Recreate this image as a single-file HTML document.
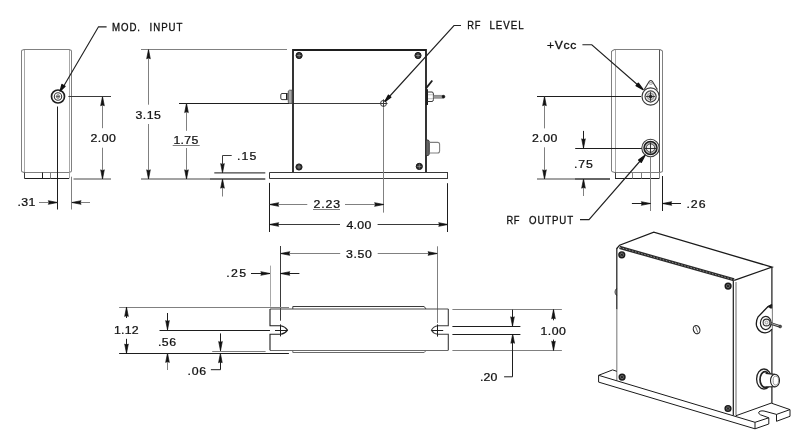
<!DOCTYPE html><html><head><meta charset="utf-8"><style>
html,body{margin:0;padding:0;background:#fff;width:800px;height:443px;overflow:hidden}
svg{display:block;filter:grayscale(1)}
text{font-family:"Liberation Sans",sans-serif}
</style></head><body>
<svg width="800" height="443" viewBox="0 0 800 443">
<line x1="21.5" y1="50.5" x2="21.5" y2="171.5" stroke="#808080" stroke-width="1.0"/>
<line x1="24.5" y1="49.5" x2="24.5" y2="172.5" stroke="#a8a8a8" stroke-width="1.0"/>
<line x1="69.5" y1="49.5" x2="69.5" y2="172.5" stroke="#a8a8a8" stroke-width="1.0"/>
<line x1="71.5" y1="50.5" x2="71.5" y2="171.5" stroke="#808080" stroke-width="1.0"/>
<path d="M21.5,50.5 L24,49.5 L69,49.5 L71.5,50.5" stroke="#808080" stroke-width="1.1" fill="none"/>
<path d="M21.5,171.5 L24,172.5 L69,172.5 L71.5,171.5" stroke="#808080" stroke-width="1.1" fill="none"/>
<line x1="24.5" y1="172.5" x2="24.5" y2="178.5" stroke="#3a3a3a" stroke-width="1.0"/>
<line x1="24.5" y1="178.5" x2="69" y2="178.5" stroke="#1e1e1e" stroke-width="1.2"/>
<line x1="69.5" y1="172.5" x2="69.5" y2="178.5" stroke="#a8a8a8" stroke-width="1.0"/>
<line x1="42.5" y1="172.5" x2="42.5" y2="178.5" stroke="#1e1e1e" stroke-width="1.0"/>
<line x1="50.5" y1="172.5" x2="50.5" y2="178.5" stroke="#808080" stroke-width="1.0"/>
<circle cx="58" cy="96.5" r="6.5" stroke="#1e1e1e" stroke-width="1.7" fill="none"/>
<circle cx="58" cy="96.5" r="3.7" stroke="#3a3a3a" stroke-width="1.1" fill="none"/>
<line x1="56" y1="96.5" x2="60" y2="96.5" stroke="#444" stroke-width="0.8"/>
<line x1="58" y1="94.5" x2="58" y2="98.5" stroke="#444" stroke-width="0.8"/>
<circle cx="58" cy="96.5" r="1.8" stroke="#666" stroke-width="0.7" fill="none"/>
<polyline points="106.6,26.8 98.5,26.8 62,89" stroke="#222" stroke-width="1.15" fill="none" stroke-linejoin="miter"/>
<polygon points="60.11,91.08 61.95,84.50 65.04,86.34" fill="#111" stroke="#111" stroke-width="1.3" stroke-linejoin="round"/>
<line x1="57.5" y1="106.5" x2="57.5" y2="209.5" stroke="#1e1e1e" stroke-width="1.0"/>
<line x1="71.5" y1="176.7" x2="71.5" y2="209.5" stroke="#808080" stroke-width="1.0"/>
<line x1="39" y1="202.5" x2="57.5" y2="202.5" stroke="#808080" stroke-width="1.0"/>
<polygon points="57.50,202.50 48.30,204.30 49.30,202.50 48.30,200.70" fill="#111" stroke="#111" stroke-width="0.7" stroke-linejoin="round"/>
<line x1="90" y1="202.5" x2="71.9" y2="202.5" stroke="#808080" stroke-width="1.0"/>
<polygon points="71.90,202.50 81.10,200.70 80.10,202.50 81.10,204.30" fill="#111" stroke="#111" stroke-width="0.7" stroke-linejoin="round"/>
<line x1="68.4" y1="96.5" x2="111" y2="96.5" stroke="#3a3a3a" stroke-width="1.0"/>
<line x1="73.5" y1="179" x2="111" y2="179" stroke="#858585" stroke-width="1.6"/>
<line x1="102.5" y1="128.2" x2="102.5" y2="96.6" stroke="#808080" stroke-width="1.0"/>
<polygon points="102.50,96.60 104.30,105.80 102.50,104.80 100.70,105.80" fill="#111" stroke="#111" stroke-width="0.7" stroke-linejoin="round"/>
<line x1="102.5" y1="147.7" x2="102.5" y2="179" stroke="#808080" stroke-width="1.0"/>
<polygon points="102.50,179.00 100.70,169.80 102.50,170.80 104.30,169.80" fill="#111" stroke="#111" stroke-width="0.7" stroke-linejoin="round"/>
<line x1="141" y1="49.5" x2="287" y2="49.5" stroke="#808080" stroke-width="1.0"/>
<line x1="141" y1="179" x2="210" y2="179" stroke="#858585" stroke-width="1.6"/>
<line x1="148.5" y1="104.7" x2="148.5" y2="49.6" stroke="#808080" stroke-width="1.0"/>
<polygon points="148.50,49.60 150.30,58.80 148.50,57.80 146.70,58.80" fill="#111" stroke="#111" stroke-width="0.7" stroke-linejoin="round"/>
<line x1="148.5" y1="124" x2="148.5" y2="179" stroke="#808080" stroke-width="1.0"/>
<polygon points="148.50,179.00 146.70,169.80 148.50,170.80 150.30,169.80" fill="#111" stroke="#111" stroke-width="0.7" stroke-linejoin="round"/>
<line x1="179" y1="103.5" x2="292" y2="103.5" stroke="#1e1e1e" stroke-width="1.0"/>
<line x1="293" y1="103.5" x2="383" y2="103.5" stroke="#3a3a3a" stroke-width="1.0"/>
<line x1="186.5" y1="130.8" x2="186.5" y2="103.4" stroke="#808080" stroke-width="1.0"/>
<polygon points="186.50,103.40 188.30,112.60 186.50,111.60 184.70,112.60" fill="#111" stroke="#111" stroke-width="0.7" stroke-linejoin="round"/>
<line x1="186.5" y1="148" x2="186.5" y2="179" stroke="#808080" stroke-width="1.0"/>
<polygon points="186.50,179.00 184.70,169.80 186.50,170.80 188.30,169.80" fill="#111" stroke="#111" stroke-width="0.7" stroke-linejoin="round"/>
<line x1="172.7" y1="145.5" x2="199.7" y2="145.5" stroke="#808080" stroke-width="1.0"/>
<line x1="214.3" y1="172.9" x2="265.3" y2="172.9" stroke="#444" stroke-width="1.4"/>
<line x1="210" y1="179" x2="265.3" y2="179" stroke="#444" stroke-width="1.4"/>
<polyline points="231.7,155.5 222.5,155.5 222.5,164" stroke="#3a3a3a" stroke-width="1" fill="none" stroke-linejoin="miter"/>
<polygon points="222.50,172.80 220.70,163.60 222.50,164.60 224.30,163.60" fill="#111" stroke="#111" stroke-width="0.7" stroke-linejoin="round"/>
<line x1="222.5" y1="196.5" x2="222.5" y2="179" stroke="#808080" stroke-width="1.0"/>
<polygon points="222.50,179.00 224.30,188.20 222.50,187.20 220.70,188.20" fill="#111" stroke="#111" stroke-width="0.7" stroke-linejoin="round"/>
<path d="M293,172 L293,50 L426,50 L426,172" stroke="#1e1e1e" stroke-width="1.8" fill="none"/>
<circle cx="299.1" cy="55.5" r="3.1" stroke="#1a1a1a" stroke-width="1.0" fill="#2a2a2a"/>
<line x1="296.90000000000003" y1="55.5" x2="301.3" y2="55.5" stroke="#aaa" stroke-width="0.6"/>
<line x1="299.1" y1="53.3" x2="299.1" y2="57.7" stroke="#aaa" stroke-width="0.6"/>
<circle cx="418" cy="55.5" r="3.1" stroke="#1a1a1a" stroke-width="1.0" fill="#2a2a2a"/>
<line x1="415.8" y1="55.5" x2="420.2" y2="55.5" stroke="#aaa" stroke-width="0.6"/>
<line x1="418" y1="53.3" x2="418" y2="57.7" stroke="#aaa" stroke-width="0.6"/>
<circle cx="299" cy="167" r="3.1" stroke="#1a1a1a" stroke-width="1.0" fill="#2a2a2a"/>
<line x1="296.8" y1="167" x2="301.2" y2="167" stroke="#aaa" stroke-width="0.6"/>
<line x1="299" y1="164.8" x2="299" y2="169.2" stroke="#aaa" stroke-width="0.6"/>
<circle cx="419.3" cy="166.4" r="3.1" stroke="#1a1a1a" stroke-width="1.0" fill="#2a2a2a"/>
<line x1="417.1" y1="166.4" x2="421.5" y2="166.4" stroke="#aaa" stroke-width="0.6"/>
<line x1="419.3" y1="164.20000000000002" x2="419.3" y2="168.6" stroke="#aaa" stroke-width="0.6"/>
<line x1="269.4" y1="172.5" x2="448" y2="172.5" stroke="#3a3a3a" stroke-width="1.1"/>
<line x1="269.4" y1="178.5" x2="448" y2="178.5" stroke="#3a3a3a" stroke-width="1.1"/>
<line x1="269.5" y1="172.5" x2="269.5" y2="178.5" stroke="#3a3a3a" stroke-width="1.0"/>
<line x1="447.5" y1="172.5" x2="447.5" y2="178.5" stroke="#3a3a3a" stroke-width="1.0"/>
<path d="M287.6,93.5 L282,93.5 Q280.8,93.5 280.8,95 L280.8,98 Q280.8,99.6 282,99.6 L287.6,99.6" stroke="#3a3a3a" stroke-width="1" fill="none"/>
<line x1="286.8" y1="93.5" x2="286.8" y2="99.6" stroke="#1e1e1e" stroke-width="1.6"/>
<polygon points="288.3,91 289.5,90.2 292,90.2 292,103.4 289.5,103.4 288.3,102.6" stroke="#555" stroke-width="0.9" fill="#aaa"/>
<line x1="426" y1="88.4" x2="432.3" y2="80.5" stroke="#1e1e1e" stroke-width="1.8"/>
<line x1="426.8" y1="89.2" x2="426.8" y2="105" stroke="#1e1e1e" stroke-width="2.4"/>
<path d="M427.5,92 L432,92 Q433.4,92 433.4,94 L433.4,99.5 Q433.4,101.5 432,101.5 L427.5,101.5" stroke="#3a3a3a" stroke-width="1" fill="none"/>
<line x1="428" y1="94.75" x2="433" y2="94.75" stroke="#a8a8a8" stroke-width="0.7"/>
<line x1="428" y1="98.7" x2="433" y2="98.7" stroke="#a8a8a8" stroke-width="0.7"/>
<rect x="433.4" y="95.2" width="9.8" height="3" fill="#999" stroke="#666" stroke-width="0.5"/>
<circle cx="443.5" cy="96.7" r="1.4" stroke="#111" stroke-width="0.6" fill="#111"/>
<polygon points="426,140 428.3,140 429.3,141.5 429.3,154 428.3,155.5 426,155.5" stroke="#333" stroke-width="0.9" fill="#666"/>
<path d="M429.3,142.4 L437.6,142.4 Q439.6,142.4 439.6,144.4 L439.6,151 Q439.6,153 437.6,153 L429.3,153" stroke="#808080" stroke-width="1.1" fill="none"/>
<circle cx="383.5" cy="103.4" r="3" stroke="#3a3a3a" stroke-width="1" fill="none"/>
<line x1="379.5" y1="103.5" x2="387.5" y2="103.5" stroke="#3a3a3a" stroke-width="1.0"/>
<line x1="383.5" y1="99.4" x2="383.5" y2="107.4" stroke="#3a3a3a" stroke-width="1.0"/>
<line x1="383.5" y1="107.4" x2="383.5" y2="212.4" stroke="#808080" stroke-width="1.0"/>
<polyline points="461,25.5 454,25.5 389,97" stroke="#222" stroke-width="1.15" fill="none" stroke-linejoin="miter"/>
<polygon points="385.00,101.36 388.46,95.18 390.83,97.33" fill="#111" stroke="#111" stroke-width="1.3" stroke-linejoin="round"/>
<line x1="269.5" y1="182.9" x2="269.5" y2="232" stroke="#1e1e1e" stroke-width="1.0"/>
<line x1="383.5" y1="180" x2="383.5" y2="212.4" stroke="#808080" stroke-width="1.0"/>
<line x1="307.3" y1="204.5" x2="269.5" y2="204.5" stroke="#808080" stroke-width="1.0"/>
<polygon points="269.50,204.50 278.70,202.70 277.70,204.50 278.70,206.30" fill="#111" stroke="#111" stroke-width="0.7" stroke-linejoin="round"/>
<line x1="345" y1="204.5" x2="383.8" y2="204.5" stroke="#808080" stroke-width="1.0"/>
<polygon points="383.80,204.50 374.60,206.30 375.60,204.50 374.60,202.70" fill="#111" stroke="#111" stroke-width="0.7" stroke-linejoin="round"/>
<line x1="313" y1="209.5" x2="340" y2="209.5" stroke="#808080" stroke-width="1.0"/>
<line x1="340" y1="224.5" x2="269.5" y2="224.5" stroke="#3a3a3a" stroke-width="1.0"/>
<polygon points="269.50,224.50 278.70,222.70 277.70,224.50 278.70,226.30" fill="#111" stroke="#111" stroke-width="0.7" stroke-linejoin="round"/>
<line x1="377.6" y1="224.5" x2="447.9" y2="224.5" stroke="#3a3a3a" stroke-width="1.0"/>
<polygon points="447.90,224.50 438.70,226.30 439.70,224.50 438.70,222.70" fill="#111" stroke="#111" stroke-width="0.7" stroke-linejoin="round"/>
<line x1="447.5" y1="183.2" x2="447.5" y2="232" stroke="#1e1e1e" stroke-width="1.0"/>
<line x1="611.5" y1="51" x2="611.5" y2="171.5" stroke="#808080" stroke-width="1.0"/>
<line x1="615.5" y1="49.7" x2="615.5" y2="172.5" stroke="#a8a8a8" stroke-width="1.0"/>
<line x1="659.5" y1="49.7" x2="659.5" y2="172.5" stroke="#555" stroke-width="1.0"/>
<line x1="662.5" y1="51" x2="662.5" y2="171.5" stroke="#808080" stroke-width="1.0"/>
<path d="M611.9,51 L614.5,49.5 L660,49.5 L662.6,51" stroke="#808080" stroke-width="1.1" fill="none"/>
<path d="M611.9,171.5 L614.5,172.5 L660,172.5 L662.6,171.5" stroke="#808080" stroke-width="1.1" fill="none"/>
<line x1="615.5" y1="172.5" x2="615.5" y2="178.5" stroke="#3a3a3a" stroke-width="1.0"/>
<line x1="615" y1="178.5" x2="659.4" y2="178.5" stroke="#1e1e1e" stroke-width="1.2"/>
<line x1="659.5" y1="172.5" x2="659.5" y2="178.5" stroke="#808080" stroke-width="1.0"/>
<line x1="632.5" y1="172.5" x2="632.5" y2="178.5" stroke="#808080" stroke-width="1.0"/>
<line x1="641.5" y1="172.5" x2="641.5" y2="178.5" stroke="#808080" stroke-width="1.0"/>
<path d="M644.2,89.6 L649.3,81.3 Q650.8,79.6 652.3,81.3 L657.4,89.6" stroke="#3a3a3a" stroke-width="1.1" fill="none"/>
<ellipse cx="650.8" cy="83.4" rx="1.8" ry="0.9" fill="none" stroke="#777" stroke-width="0.7"/>
<circle cx="650.6" cy="96.5" r="8.6" stroke="#3a3a3a" stroke-width="1.2" fill="#fff"/>
<circle cx="650.6" cy="96.5" r="5.6" stroke="#3a3a3a" stroke-width="1.1" fill="#ddd"/>
<circle cx="650.6" cy="96.5" r="3.2" stroke="#777" stroke-width="0.8" fill="none"/>
<circle cx="650.6" cy="96.5" r="1.6" stroke="#1e1e1e" stroke-width="0.5" fill="#1e1e1e"/>
<line x1="646" y1="96.5" x2="655" y2="96.5" stroke="#1e1e1e" stroke-width="0.8"/>
<line x1="650.5" y1="92" x2="650.5" y2="101" stroke="#1e1e1e" stroke-width="0.8"/>
<circle cx="650.5" cy="148" r="8.7" stroke="#3a3a3a" stroke-width="1.1" fill="none"/>
<circle cx="650.5" cy="148" r="6.5" stroke="#1e1e1e" stroke-width="1.5" fill="#bbb"/>
<circle cx="650.5" cy="148" r="4.2" stroke="#3a3a3a" stroke-width="0.9" fill="#eee"/>
<line x1="645" y1="148.5" x2="656" y2="148.5" stroke="#1e1e1e" stroke-width="0.9"/>
<line x1="650.5" y1="142.5" x2="650.5" y2="153.5" stroke="#1e1e1e" stroke-width="0.9"/>
<line x1="650.5" y1="157" x2="650.5" y2="211" stroke="#808080" stroke-width="1.0"/>
<line x1="662.5" y1="176" x2="662.5" y2="211" stroke="#1e1e1e" stroke-width="1.0"/>
<line x1="631.9" y1="203.5" x2="650.5" y2="203.5" stroke="#1e1e1e" stroke-width="1.0"/>
<polygon points="650.50,203.50 641.30,205.30 642.30,203.50 641.30,201.70" fill="#111" stroke="#111" stroke-width="0.7" stroke-linejoin="round"/>
<line x1="681" y1="203.5" x2="662.5" y2="203.5" stroke="#1e1e1e" stroke-width="1.0"/>
<polygon points="662.50,203.50 671.70,201.70 670.70,203.50 671.70,205.30" fill="#111" stroke="#111" stroke-width="0.7" stroke-linejoin="round"/>
<line x1="537" y1="96.5" x2="641" y2="96.5" stroke="#1e1e1e" stroke-width="1.0"/>
<line x1="537" y1="179" x2="575" y2="179" stroke="#858585" stroke-width="1.5"/>
<line x1="575" y1="179" x2="610" y2="179" stroke="#333" stroke-width="1.5"/>
<line x1="544.5" y1="128.4" x2="544.5" y2="96.5" stroke="#808080" stroke-width="1.0"/>
<polygon points="544.50,96.50 546.30,105.70 544.50,104.70 542.70,105.70" fill="#111" stroke="#111" stroke-width="0.7" stroke-linejoin="round"/>
<line x1="544.5" y1="147.3" x2="544.5" y2="179" stroke="#808080" stroke-width="1.0"/>
<polygon points="544.50,179.00 542.70,169.80 544.50,170.80 546.30,169.80" fill="#111" stroke="#111" stroke-width="0.7" stroke-linejoin="round"/>
<line x1="575.2" y1="148.5" x2="641.8" y2="148.5" stroke="#1e1e1e" stroke-width="1.0"/>
<line x1="583.5" y1="130.9" x2="583.5" y2="148" stroke="#1e1e1e" stroke-width="1.0"/>
<polygon points="583.50,148.00 581.70,138.80 583.50,139.80 585.30,138.80" fill="#111" stroke="#111" stroke-width="0.7" stroke-linejoin="round"/>
<line x1="583.5" y1="196" x2="583.5" y2="179" stroke="#808080" stroke-width="1.0"/>
<polygon points="583.50,179.00 585.30,188.20 583.50,187.20 581.70,188.20" fill="#111" stroke="#111" stroke-width="0.7" stroke-linejoin="round"/>
<polyline points="582.4,44.75 591.8,44.75 639,86" stroke="#222" stroke-width="1.15" fill="none" stroke-linejoin="miter"/>
<polygon points="643.15,89.61 636.08,85.69 638.32,83.13" fill="#111" stroke="#111" stroke-width="1.3" stroke-linejoin="round"/>
<polyline points="580,219.6 589,219.6 641,160" stroke="#222" stroke-width="1.15" fill="none" stroke-linejoin="miter"/>
<polygon points="645.11,155.25 641.20,162.32 638.63,160.09" fill="#111" stroke="#111" stroke-width="1.3" stroke-linejoin="round"/>
<line x1="280.5" y1="246" x2="280.5" y2="320.7" stroke="#3a3a3a" stroke-width="1.0"/>
<line x1="437.5" y1="246.3" x2="437.5" y2="323" stroke="#808080" stroke-width="1.0"/>
<line x1="340.2" y1="253.5" x2="280.6" y2="253.5" stroke="#808080" stroke-width="1.0"/>
<polygon points="280.60,253.50 289.80,251.70 288.80,253.50 289.80,255.30" fill="#111" stroke="#111" stroke-width="0.7" stroke-linejoin="round"/>
<line x1="377.7" y1="253.5" x2="437.2" y2="253.5" stroke="#808080" stroke-width="1.0"/>
<polygon points="437.20,253.50 428.00,255.30 429.00,253.50 428.00,251.70" fill="#111" stroke="#111" stroke-width="0.7" stroke-linejoin="round"/>
<line x1="270.5" y1="265.6" x2="270.5" y2="306.7" stroke="#a8a8a8" stroke-width="1.0"/>
<line x1="251" y1="273.5" x2="270" y2="273.5" stroke="#1e1e1e" stroke-width="1.0"/>
<polygon points="270.00,273.50 260.80,275.30 261.80,273.50 260.80,271.70" fill="#111" stroke="#111" stroke-width="0.7" stroke-linejoin="round"/>
<line x1="299.4" y1="273.5" x2="280.6" y2="273.5" stroke="#1e1e1e" stroke-width="1.0"/>
<polygon points="280.60,273.50 289.80,271.70 288.80,273.50 289.80,275.30" fill="#111" stroke="#111" stroke-width="0.7" stroke-linejoin="round"/>
<line x1="119.1" y1="307.5" x2="289" y2="307.5" stroke="#808080" stroke-width="1.0"/>
<path d="M292.8,309 L292.8,306.5 L424.2,306.5 L426,309" stroke="#3a3a3a" stroke-width="1.0" fill="none"/>
<line x1="270" y1="309" x2="448.3" y2="309" stroke="#4a4a4a" stroke-width="1.2"/>
<line x1="119.1" y1="353.5" x2="288.9" y2="353.5" stroke="#1e1e1e" stroke-width="1.2"/>
<path d="M292.8,350.5 L292.8,352.5 L424.2,352.5 L426,350.5" stroke="#6a6a6a" stroke-width="1.0" fill="none"/>
<line x1="270" y1="350.5" x2="448.3" y2="350.5" stroke="#6a6a6a" stroke-width="1.0"/>
<line x1="212.2" y1="351.5" x2="265.6" y2="351.5" stroke="#808080" stroke-width="1.0"/>
<path d="M270,309 L270,325.8 L280.6,325.8 Q285,326.5 287.5,330.1 Q285,333.7 280.6,334.3 L270,334.3 L270,350.3" stroke="#1e1e1e" stroke-width="1.1" fill="none"/>
<line x1="280.5" y1="324.4" x2="280.5" y2="336.4" stroke="#1e1e1e" stroke-width="1.0"/>
<line x1="275" y1="330.5" x2="287.5" y2="330.5" stroke="#1e1e1e" stroke-width="1.0"/>
<line x1="159.5" y1="330.5" x2="270" y2="330.5" stroke="#1e1e1e" stroke-width="1.0"/>
<path d="M448.3,309 L448.3,325.8 L437.8,325.8 Q433.5,326.5 431.4,330.2 Q433.5,333.6 437.8,334.3 L448.3,334.3 L448.3,350.3" stroke="#3a3a3a" stroke-width="1.1" fill="none"/>
<line x1="437.5" y1="324.4" x2="437.5" y2="336.6" stroke="#1e1e1e" stroke-width="1.0"/>
<line x1="431.7" y1="330.5" x2="443.2" y2="330.5" stroke="#1e1e1e" stroke-width="1.0"/>
<line x1="126.5" y1="318" x2="126.5" y2="307.2" stroke="#1e1e1e" stroke-width="1.0"/>
<polygon points="126.50,307.20 128.30,316.40 126.50,315.40 124.70,316.40" fill="#111" stroke="#111" stroke-width="0.7" stroke-linejoin="round"/>
<line x1="126.5" y1="338.8" x2="126.5" y2="353.2" stroke="#1e1e1e" stroke-width="1.0"/>
<polygon points="126.50,353.20 124.70,344.00 126.50,345.00 128.30,344.00" fill="#111" stroke="#111" stroke-width="0.7" stroke-linejoin="round"/>
<line x1="167.5" y1="313" x2="167.5" y2="329.8" stroke="#1e1e1e" stroke-width="1.0"/>
<polygon points="167.50,329.80 165.70,320.60 167.50,321.60 169.30,320.60" fill="#111" stroke="#111" stroke-width="0.7" stroke-linejoin="round"/>
<line x1="167.5" y1="370" x2="167.5" y2="353.2" stroke="#808080" stroke-width="1.0"/>
<polygon points="167.50,353.20 169.30,362.40 167.50,361.40 165.70,362.40" fill="#111" stroke="#111" stroke-width="0.7" stroke-linejoin="round"/>
<line x1="220.5" y1="333.4" x2="220.5" y2="350.7" stroke="#1e1e1e" stroke-width="1.0"/>
<polygon points="220.50,350.70 218.70,341.50 220.50,342.50 222.30,341.50" fill="#111" stroke="#111" stroke-width="0.7" stroke-linejoin="round"/>
<polyline points="210.9,369.7 220.5,369.7 220.5,362" stroke="#1e1e1e" stroke-width="1" fill="none" stroke-linejoin="miter"/>
<polygon points="220.40,353.50 222.20,362.70 220.40,361.70 218.60,362.70" fill="#111" stroke="#111" stroke-width="0.7" stroke-linejoin="round"/>
<line x1="452.4" y1="309.5" x2="561.9" y2="309.5" stroke="#808080" stroke-width="1.0"/>
<line x1="452.4" y1="326.5" x2="520.4" y2="326.5" stroke="#1e1e1e" stroke-width="1.2"/>
<line x1="452.4" y1="334.5" x2="520.4" y2="334.5" stroke="#1e1e1e" stroke-width="1.2"/>
<line x1="452.4" y1="350.5" x2="561.9" y2="350.5" stroke="#808080" stroke-width="1.0"/>
<line x1="512.5" y1="309.6" x2="512.5" y2="326" stroke="#1e1e1e" stroke-width="1.0"/>
<polygon points="512.50,326.00 510.70,316.80 512.50,317.80 514.30,316.80" fill="#111" stroke="#111" stroke-width="0.7" stroke-linejoin="round"/>
<polyline points="504.1,376.8 512.5,376.8 512.5,342" stroke="#1e1e1e" stroke-width="1" fill="none" stroke-linejoin="miter"/>
<polygon points="512.70,334.10 514.50,343.30 512.70,342.30 510.90,343.30" fill="#111" stroke="#111" stroke-width="0.7" stroke-linejoin="round"/>
<line x1="553.5" y1="320.3" x2="553.5" y2="309.6" stroke="#1e1e1e" stroke-width="1.0"/>
<polygon points="553.50,309.60 555.30,318.80 553.50,317.80 551.70,318.80" fill="#111" stroke="#111" stroke-width="0.7" stroke-linejoin="round"/>
<line x1="553.5" y1="339.6" x2="553.5" y2="350.4" stroke="#1e1e1e" stroke-width="1.0"/>
<polygon points="553.50,350.40 551.70,341.20 553.50,342.20 555.30,341.20" fill="#111" stroke="#111" stroke-width="0.7" stroke-linejoin="round"/>
<text transform="translate(112.00,31) scale(0.88,1)" x="0" y="0" font-size="11.0" fill="#111" stroke="#111" stroke-width="0.32" textLength="31.90" lengthAdjust="spacing">MOD.</text>
<text transform="translate(149.54,31) scale(0.88,1)" x="0" y="0" font-size="11.0" fill="#111" stroke="#111" stroke-width="0.32" textLength="37.41" lengthAdjust="spacing">INPUT</text>
<text transform="translate(467.30,29.4) scale(0.85,1)" x="0" y="0" font-size="11.0" fill="#111" stroke="#111" stroke-width="0.32" textLength="15.50" lengthAdjust="spacing">RF</text>
<text transform="translate(489.52,29.4) scale(0.88,1)" x="0" y="0" font-size="11.0" fill="#111" stroke="#111" stroke-width="0.32" textLength="38.69" lengthAdjust="spacing">LEVEL</text>
<text transform="translate(547.10,48.9) scale(1.1,1)" x="0" y="0" font-size="11.0" fill="#111" stroke="#111" stroke-width="0.32" textLength="26.60" lengthAdjust="spacing">+Vcc</text>
<text transform="translate(506.40,223.5) scale(0.85,1)" x="0" y="0" font-size="11.0" fill="#111" stroke="#111" stroke-width="0.32" textLength="15.50" lengthAdjust="spacing">RF</text>
<text transform="translate(529.00,223.5) scale(0.88,1)" x="0" y="0" font-size="11.0" fill="#111" stroke="#111" stroke-width="0.32" textLength="50.13" lengthAdjust="spacing">OUTPUT</text>
<text transform="translate(90.52,142) scale(1.12,1)" x="0" y="0" font-size="11.0" fill="#111" stroke="#111" stroke-width="0.25" textLength="22.65" lengthAdjust="spacing">2.00</text>
<text transform="translate(135.50,118.5) scale(1.12,1)" x="0" y="0" font-size="11.0" fill="#111" stroke="#111" stroke-width="0.25" textLength="22.68" lengthAdjust="spacing">3.15</text>
<text transform="translate(173.50,144) scale(1.12,1)" x="0" y="0" font-size="11.0" fill="#111" stroke="#111" stroke-width="0.25" textLength="22.08" lengthAdjust="spacing">1.75</text>
<text transform="translate(17.44,206.1) scale(1.12,1)" x="0" y="0" font-size="11.0" fill="#111" stroke="#111" stroke-width="0.25" textLength="15.95" lengthAdjust="spacing">.31</text>
<text transform="translate(236.96,159.9) scale(1.12,1)" x="0" y="0" font-size="11.0" fill="#111" stroke="#111" stroke-width="0.25" textLength="17.31" lengthAdjust="spacing">.15</text>
<text transform="translate(313.50,207.6) scale(1.12,1)" x="0" y="0" font-size="11.0" fill="#111" stroke="#111" stroke-width="0.25" textLength="23.80" lengthAdjust="spacing">2.23</text>
<text transform="translate(346.46,228.5) scale(1.12,1)" x="0" y="0" font-size="11.0" fill="#111" stroke="#111" stroke-width="0.25" textLength="22.13" lengthAdjust="spacing">4.00</text>
<text transform="translate(532.00,142.1) scale(1.12,1)" x="0" y="0" font-size="11.0" fill="#111" stroke="#111" stroke-width="0.25" textLength="22.65" lengthAdjust="spacing">2.00</text>
<text transform="translate(573.96,168.1) scale(1.12,1)" x="0" y="0" font-size="11.0" fill="#111" stroke="#111" stroke-width="0.25" textLength="16.75" lengthAdjust="spacing">.75</text>
<text transform="translate(686.44,207.9) scale(1.12,1)" x="0" y="0" font-size="11.0" fill="#111" stroke="#111" stroke-width="0.25" textLength="17.03" lengthAdjust="spacing">.26</text>
<text transform="translate(226.25,277.25) scale(1.12,1)" x="0" y="0" font-size="11.0" fill="#111" stroke="#111" stroke-width="0.25" textLength="17.70" lengthAdjust="spacing">.25</text>
<text transform="translate(346.00,257.7) scale(1.12,1)" x="0" y="0" font-size="11.0" fill="#111" stroke="#111" stroke-width="0.25" textLength="23.18" lengthAdjust="spacing">3.50</text>
<text transform="translate(114.04,333.75) scale(1.12,1)" x="0" y="0" font-size="11.0" fill="#111" stroke="#111" stroke-width="0.25" textLength="22.01" lengthAdjust="spacing">1.12</text>
<text transform="translate(157.98,345.7) scale(1.12,1)" x="0" y="0" font-size="11.0" fill="#111" stroke="#111" stroke-width="0.25" textLength="16.08" lengthAdjust="spacing">.56</text>
<text transform="translate(187.44,374.5) scale(1.12,1)" x="0" y="0" font-size="11.0" fill="#111" stroke="#111" stroke-width="0.25" textLength="16.70" lengthAdjust="spacing">.06</text>
<text transform="translate(479.92,380.9) scale(1.12,1)" x="0" y="0" font-size="11.0" fill="#111" stroke="#111" stroke-width="0.25" textLength="15.52" lengthAdjust="spacing">.20</text>
<text transform="translate(540.52,334.6) scale(1.12,1)" x="0" y="0" font-size="11.0" fill="#111" stroke="#111" stroke-width="0.25" textLength="22.65" lengthAdjust="spacing">1.00</text>
<path d="M616.8,248.5 L619.6,245.2 L653.8,232.2 L771.9,267.1 L734.2,280.4" stroke="#1a1a1a" stroke-width="1.3" fill="none"/>
<line x1="619.6" y1="247.4" x2="734" y2="279.8" stroke="#2a2a2a" stroke-width="3.2"/>
<line x1="619.6" y1="247.4" x2="734" y2="279.8" stroke="#8a8a8a" stroke-width="1.0" stroke-dasharray="1.6,1.6"/>
<line x1="616.8" y1="248" x2="616.8" y2="309.5" stroke="#2a2a2a" stroke-width="1.3"/>
<line x1="616.8" y1="309.5" x2="616.8" y2="380.8" stroke="#8a8a8a" stroke-width="1.2"/>
<path d="M616.6,288.5 Q613.5,292 616.6,295.5" stroke="#1a1a1a" stroke-width="0.9" fill="none"/>
<line x1="733.3" y1="280.4" x2="733.3" y2="415.6" stroke="#1a1a1a" stroke-width="1.2"/>
<line x1="736" y1="282" x2="736" y2="415.8" stroke="#666" stroke-width="1"/>
<line x1="771.9" y1="267.1" x2="771.9" y2="403.1" stroke="#1a1a1a" stroke-width="1.2"/>
<circle cx="621.8" cy="254.8" r="2.9" stroke="#1a1a1a" stroke-width="1.4" fill="#666"/>
<path d="M620.3,253.60000000000002 L623.3,256.0 M620.3,256.0 L623.3,253.60000000000002" stroke="#111" stroke-width="0.8" fill="none"/>
<circle cx="728.1" cy="286.1" r="2.9" stroke="#1a1a1a" stroke-width="1.4" fill="#666"/>
<path d="M726.6,284.90000000000003 L729.6,287.3 M726.6,287.3 L729.6,284.90000000000003" stroke="#111" stroke-width="0.8" fill="none"/>
<circle cx="622.1" cy="377.1" r="2.9" stroke="#1a1a1a" stroke-width="1.4" fill="#666"/>
<path d="M620.6,375.90000000000003 L623.6,378.3 M620.6,378.3 L623.6,375.90000000000003" stroke="#111" stroke-width="0.8" fill="none"/>
<circle cx="728" cy="408.5" r="2.9" stroke="#1a1a1a" stroke-width="1.4" fill="#666"/>
<path d="M726.5,407.3 L729.5,409.7 M726.5,409.7 L729.5,407.3" stroke="#111" stroke-width="0.8" fill="none"/>
<ellipse cx="696.6" cy="329.6" rx="3.2" ry="4.2" transform="rotate(-20 696.6 329.6)" stroke="#222" stroke-width="1.1" fill="none"/>
<line x1="695.5" y1="326.5" x2="697.8" y2="332.5" stroke="#444" stroke-width="0.8"/>
<path d="M771.9,304.6 L767.8,306.8 L758.1,316.8 Q755.6,321.5 756.6,326 Q758.6,332.6 765,332.8 Q769.6,332.6 771.9,329" stroke="#1a1a1a" stroke-width="1.3" fill="#fff"/>
<polygon points="771.9,304.4 767.6,306.6 770.5,308.2 771.9,308.2" stroke="#1a1a1a" stroke-width="0.5" fill="#1a1a1a"/>
<ellipse cx="765.8" cy="323" rx="5.4" ry="6.6" stroke="#222" stroke-width="1.2" fill="#fff"/>
<circle cx="766.5" cy="322.5" r="3.4" stroke="#333" stroke-width="1.1" fill="#f4f4f4"/>
<circle cx="766.5" cy="322.5" r="1.4" stroke="#888" stroke-width="0.7" fill="none"/>
<line x1="770.8" y1="323.5" x2="780.2" y2="326.5" stroke="#333" stroke-width="2.6"/>
<line x1="771.5" y1="323.6" x2="779.5" y2="326.2" stroke="#bbb" stroke-width="0.9"/>
<circle cx="780.2" cy="326.5" r="1.4" stroke="#222" stroke-width="0.6" fill="#555"/>
<ellipse cx="764" cy="379" rx="7.4" ry="10" stroke="#222" stroke-width="1.3" fill="#fff"/>
<ellipse cx="765" cy="379.5" rx="5" ry="7.8" stroke="#222" stroke-width="1.7" fill="#fff"/>
<path d="M765.6,373.5 L775,374.4 L775,386.8 L765.6,386.9 Z" stroke="none" stroke-width="0" fill="#fff"/>
<path d="M765.6,373.5 L775,374.4 M765.6,386.9 L775,386.8" stroke="#1a1a1a" stroke-width="1.1" fill="none"/>
<ellipse cx="775" cy="380.6" rx="4.5" ry="6.3" stroke="#222" stroke-width="1.1" fill="#fff"/>
<ellipse cx="775.8" cy="380.6" rx="2.7" ry="4.5" stroke="#777" stroke-width="0.8" fill="none"/>
<path d="M598.6,375.3 L612.6,369.9 L616.8,371.3" stroke="#1a1a1a" stroke-width="1" fill="none"/>
<path d="M598.6,375.3 L598.6,382.1 L755,428.8 L755,422.3 L598.6,375.3" stroke="#1a1a1a" stroke-width="1" fill="none"/>
<path d="M736,415.7 L771.2,403.1 L790,409.6 L790,416.3 L776.5,421.3 L776.5,414.4 L790,409.6" stroke="#1a1a1a" stroke-width="1" fill="none"/>
<path d="M755,422.3 L768.8,417.8 L768.8,424 L755,428.8" stroke="#1a1a1a" stroke-width="1" fill="none"/>
<path d="M768.8,417.8 L760.5,414.8 Q757,412.8 760,411.2 Q762,410.6 764,411 L776.5,414.4" stroke="#1a1a1a" stroke-width="1" fill="none"/>
</svg></body></html>
